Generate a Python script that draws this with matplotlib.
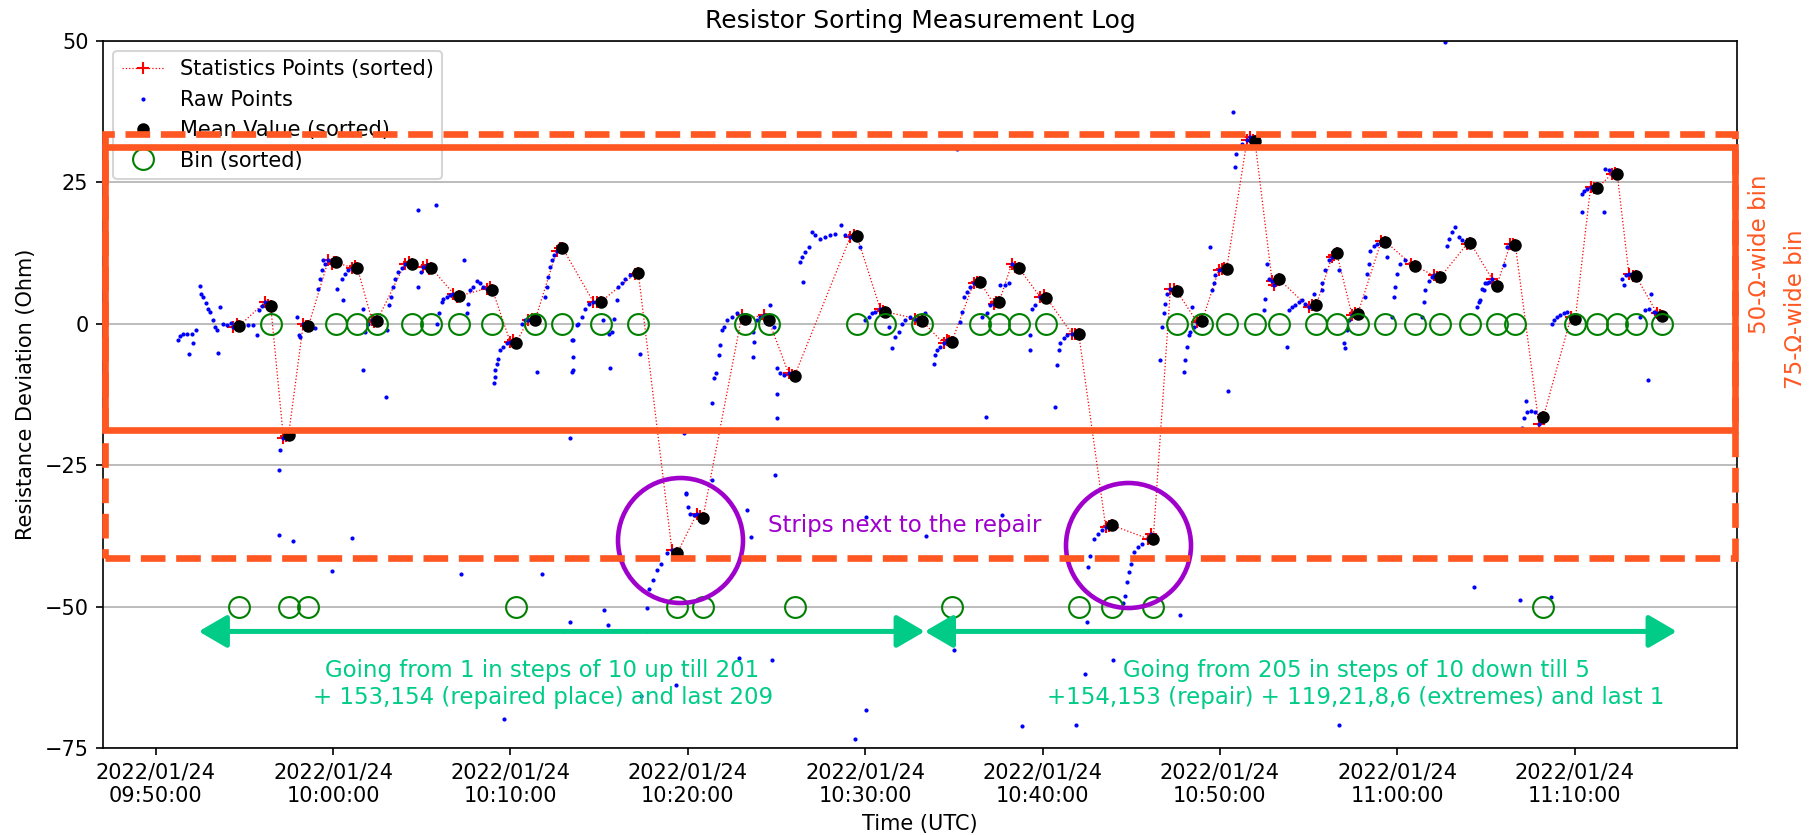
import numpy as np
import matplotlib
matplotlib.use("Agg")
import matplotlib.pyplot as plt
import matplotlib.dates as mdates
from matplotlib.patches import Rectangle

# time is given in minutes after 2022/01/24 09:50:00 (UTC)
raw_t = [
    1.27, 1.37, 1.55, 1.78, 2.02, 2.27, 2.12, 1.87, 2.49, 2.55, 2.68, 2.83, 2.96, 3.06, 3.21, 3.34, 3.43, 3.62, 3.81, 4.00, 4.22, 4.37, 4.56, 4.71,
    5.22, 5.50, 5.73, 5.84, 5.97, 6.16, 6.35, 6.48,
    6.93, 6.99, 7.20, 7.35, 7.49,
    7.94, 8.06, 8.14, 8.32, 8.45, 8.60,
    9.17, 9.26, 9.35, 9.41, 9.54, 9.73, 9.92, 10.05, 10.18,
    10.48, 10.67, 10.86, 11.05, 11.24, 11.36,
    11.99, 12.19, 12.30, 12.46,
    13.17, 13.25, 13.36, 13.49, 13.68, 13.87, 14.05, 14.30, 14.47,
    14.94, 15.09, 15.27, 15.40, 15.52,
    15.88, 15.99, 16.12, 16.22, 16.41, 16.60, 16.78, 16.97, 17.10,
    17.53, 17.63, 17.72, 17.91, 18.10, 18.28, 18.47, 18.66, 18.85, 18.98,
    19.05, 19.10, 19.13, 19.23, 19.32, 19.41, 19.60, 19.79, 19.98, 20.16, 20.30,
    20.64, 20.82, 21.01, 21.20, 21.39,
    21.96, 22.04, 22.14, 22.23, 22.33, 22.46, 22.61, 22.80, 22.93,
    23.55, 23.74, 23.83, 24.02, 24.21, 24.45, 24.68, 24.90, 25.11,
    25.71, 25.84, 25.99, 26.09, 26.28, 26.47, 26.75, 27.03, 27.21,
    27.68, 27.72, 27.82, 28.04, 28.25, 28.47, 28.82, 29.10, 29.41,
    29.87, 30.03, 30.13, 30.32, 30.51, 30.70, 30.85,
    31.45, 31.58, 31.73, 31.82, 31.92, 32.05, 32.20, 32.48, 32.77, 33.05, 33.23,
    33.89, 34.08, 34.27, 34.42, 34.55,
    34.93, 35.00, 35.00, 35.02, 35.21, 35.40, 35.68, 35.85, 36.02,
    36.33, 36.43, 36.62, 36.81, 36.99, 37.18, 37.46, 37.75, 38.03, 38.32, 38.65, 38.87, 39.16, 39.35, 39.53,
    40.00, 40.19, 40.38, 40.57, 40.85, 41.00, 41.13,
    41.69, 41.88, 42.07, 42.26, 42.54, 42.82, 43.00, 43.20,
    43.86, 43.95, 44.05, 44.23, 44.42, 44.61, 44.75, 44.87,
    45.36, 45.45, 45.55, 45.74, 45.92, 46.11, 46.30, 46.49,
    46.86, 47.05, 47.24, 47.40, 47.56,
    47.90, 48.09, 48.27, 48.46, 48.65,
    49.40, 49.59, 49.87, 50.06, 50.22,
    50.81, 50.90, 51.00, 51.19, 51.38, 51.65, 51.85, 52.04,
    52.48, 52.59, 52.70, 52.91, 53.13, 53.35, 53.56, 53.72, 53.89,
    54.53, 54.64, 54.75, 54.86, 54.96, 55.18, 55.40, 55.61, 55.93, 56.10, 56.24,
    56.65, 56.74, 56.84, 56.93, 57.02, 57.21, 57.40, 57.58,
    58.24, 58.33, 58.52, 58.71, 58.85, 58.99,
    59.55, 59.65, 59.74, 59.93, 60.12, 60.25, 60.38,
    60.83, 60.93, 61.06, 61.25, 61.53, 61.72, 61.85, 61.98,
    62.47, 62.56, 62.75, 62.94, 63.03, 63.15, 63.31,
    63.87, 64.06, 64.25, 64.44, 64.63, 64.82, 65.00, 65.20, 65.44,
    65.76, 65.95, 66.13, 66.32, 66.45, 66.59,
    67.16, 67.26, 67.45, 67.64, 67.77,
    68.20, 68.29, 68.39, 68.48, 68.67, 68.86, 69.10, 69.33,
    69.71, 69.81, 69.90, 70.00, 70.18, 70.46, 70.75, 71.00,
    71.39, 71.49, 71.58, 71.77, 71.96, 72.06, 72.25, 72.43,
    72.81, 72.90, 73.09, 73.28, 73.47, 73.66, 73.94, 74.12,
    74.49, 74.59, 74.69, 74.78, 74.87, 74.96, 75.06, 75.15, 75.34, 75.61,
    76.00, 76.19, 76.38, 76.55, 76.66,
    77.02, 77.12, 77.27, 77.33, 77.55, 77.77, 77.99, 78.24,
    78.73, 78.83, 79.01, 79.20, 79.39, 79.58, 79.80, 80.04,
    80.42, 80.52, 80.71, 80.90, 81.10, 81.27,
    81.74, 81.93, 82.12, 82.28, 82.40,
    82.68, 82.77, 82.87, 83.06, 83.30, 83.47,
    83.71, 83.99, 84.18, 84.47, 84.65, 84.80, 84.94,
]
raw_v = [
    -2.9, -2.2, -1.8, -1.9, -1.9, -1.2, -3.5, -5.3, 6.6, 5.3, 4.7, 3.6, 2.6, 2.1, 0.6, -0.6, -1.1, 2.9, 0.0, -0.3, 0.1, -0.6, 0.0, -0.4,
    -0.3, -0.3, -2.1, 2.4, 3.1, 3.8, 3.2, 3.1,
    -25.8, -22.4, -20.3, -19.9, -19.6,
    1.1, -2.1, -2.4, 0.0, -0.4, -0.5,
    6.2, 7.9, 9.5, 11.3, 10.6, 11.2, 10.6, 10.9, 10.8,
    7.9, 8.8, 9.4, 9.9, 10.1, 9.9,
    0.0, 0.6, 0.3, 0.4,
    3.2, 4.7, 6.5, 7.9, 9.1, 9.9, 10.6, 10.9, 10.5,
    9.1, 10.0, 10.3, 9.7, 9.9,
    0.0, 1.8, 3.8, 4.4, 4.7, 5.0, 5.3, 4.7, 4.9,
    1.8, 3.5, 5.9, 6.5, 7.6, 7.1, 6.5, 6.2, 6.5, 6.0,
    -10.5, -9.5, -8.2, -7.1, -6.2, -4.7, -4.1, -3.5, -3.2, -2.9, -3.5,
    0.0, 0.6, 0.7, 0.9, 0.65,
    4.7, 6.5, 8.2, 10.0, 11.2, 12.1, 12.9, 13.4, 13.4,
    -2.9, -0.3, 0.0, 1.2, 2.6, 3.5, 3.8, 3.9, 3.9,
    -1.5, 0.9, 4.1, 6.5, 7.1, 7.9, 8.5, 8.8, 8.9,
    -54.3, -50.3, -46.9, -45.4, -43.6, -42.4, -40.6, -40.0, -40.5,
    -29.9, -32.4, -33.6, -33.9, -33.6, -34.0, -34.3,
    -9.7, -8.8, -5.6, -3.8, -1.2, -0.6, 0.6, 1.2, 1.8, 1.5, 0.8,
    0.6, 1.2, 1.5, 0.9, 0.65,
    -26.7, -16.6, -12.4, -7.9, -8.8, -9.1, -8.8, -9.0, -9.2,
    10.9, 11.8, 12.6, 13.5, 16.2, 15.6, 15.0, 15.3, 15.6, 15.9, 17.4, 15.6, 15.3, 15.6, 15.5,
    0.6, 1.2, 1.8, 2.1, 2.6, 2.3, 2.1,
    -2.4, -1.5, 0.0, 0.6, 1.2, 0.9, 0.7, 0.5,
    -7.1, -5.6, -4.7, -4.1, -3.5, -2.9, -3.1, -3.3,
    0.3, 2.1, 4.7, 5.6, 6.5, 7.1, 7.4, 7.3,
    1.8, 3.2, 3.5, 3.8, 3.9,
    6.8, 7.1, 10.6, 10.0, 9.9,
    2.6, 3.2, 4.7, 5.0, 4.6,
    -7.4, -4.7, -3.5, -2.6, -2.1, -1.8, -1.9, -1.8,
    -52.8, -43.0, -41.0, -38.0, -37.1, -36.5, -35.9, -35.7, -35.6,
    -49.3, -48.1, -45.7, -43.9, -42.4, -40.4, -39.5, -38.9, -38.0, -37.2, -38.1,
    -6.5, -0.6, 1.8, 3.5, 5.3, 6.2, 6.2, 5.7,
    -2.1, -1.5, -0.6, 0.3, 0.5, 0.4,
    5.9, 7.1, 8.5, 9.4, 9.7, 9.8, 9.7,
    27.6, 30.0, 31.2, 31.8, 32.4, 32.9, 32.5, 32.2,
    2.4, 4.4, 7.9, 7.6, 6.8, 7.5, 7.9,
    2.4, 2.9, 3.2, 3.8, 4.1, 3.5, 2.9, 3.2, 3.35,
    7.1, 9.4, 11.2, 11.8, 12.2, 12.4,
    -1.2, 0.6, 1.5, 1.8, 1.7,
    4.7, 8.8, 10.6, 12.9, 13.8, 14.1, 14.6, 14.5,
    1.2, 4.7, 6.5, 8.8, 10.6, 11.2, 10.6, 10.2,
    1.2, 3.8, 5.9, 7.6, 8.2, 8.5, 8.3, 8.2,
    13.8, 15.0, 16.2, 17.1, 15.3, 14.7, 14.1, 14.3,
    2.9, 3.8, 4.1, 6.2, 5.9, 7.1, 7.1, 7.4, 7.9, 6.7,
    10.3, 13.5, 14.1, 14.0, 13.9,
    -18.4, -16.6, -13.7, -15.7, -15.4, -15.7, -17.8, -16.5,
    0.0, 0.6, 1.2, 1.5, 1.8, 2.1, 1.2, 0.8,
    22.9, 23.5, 23.8, 24.1, 24.0, 23.9,
    27.4, 27.1, 26.5, 26.6, 26.5,
    7.9, 6.8, 8.5, 8.8, 8.4, 8.35,
    1.2, 2.4, 2.6, 2.1, 1.8, 1.5, 1.4,
]

# stray raw readings (not used for statistics)
stray_t = [3.53, 6.93, 7.71, 8.98, 9.95, 10.24, 10.54, 11.70, 11.80, 11.70, 13.02, 13.00, 14.77, 14.81,
           15.80, 17.38, 17.21, 21.78, 23.36, 23.36, 25.30, 23.03, 21.48, 23.45, 23.55, 23.55, 23.47,
           25.24, 25.58, 25.62, 27.31, 29.77, 29.88, 31.39, 31.39, 33.33, 33.55, 33.70, 33.74, 33.67,
           34.64, 34.83, 36.48, 39.68, 40.07, 41.32, 41.50, 43.38, 43.41, 45.03, 45.20, 46.58, 46.83,
           47.62, 47.69, 49.31, 49.31, 50.71, 53.99, 34.74, 57.77, 57.96, 58.05, 58.14, 58.43, 59.42,
           60.47, 60.74, 62.66, 63.78, 65.28, 65.76, 66.70, 66.98, 67.07, 69.42, 72.71, 74.32, 76.93,
           78.65, 80.42, 81.68, 84.15, 84.28, 19.66, 27.34, 39.45, 40.04, 48.83, 51.89, 66.73, 25.50,
           29.36, 32.87, 44.79, 11.07, 52.40]
stray_v = [-5.2, -37.3, -38.4, -0.8, -43.8, 6.2, 4.2, -8.2, -1.5, 2.6, -1.2, -13.0, 20.0, 6.5,
           20.9, 11.2, -44.2, -44.2, -20.3, -52.7, -50.6, -54.3, -8.5, -2.9, -8.2, -5.9, -8.5,
           0.6, -1.8, -7.9, -5.3, -19.4, -30.1, -27.7, -14.1, -32.9, -37.8, -1.5, -3.2, -5.9,
           3.2, -0.6, 7.4, 13.6, -34.1, -0.6, -4.4, 1.8, -37.6, -57.6, 30.8, 1.2, -16.5,
           6.8, -33.8, -2.1, -4.7, -14.7, -59.4, -59.4, -51.5, -8.5, -6.5, -4.1, 2.9, 13.5,
           -12.0, 37.4, 10.6, -4.1, 5.3, 5.9, 9.4, -3.5, -4.4, 11.8, 49.7, -46.6, -48.8,
           -48.4, 19.7, 19.7, -9.9, 5.3, -69.9, -65.8, -73.4, -68.3, -71.1, -70.9, -70.9, -53.2,
           -63.8, -59.1, -56.0, -37.9, -62.0]

mean_t = [4.71, 6.48, 7.49, 8.60, 10.18, 11.36, 12.46, 14.47, 15.52, 17.10, 18.98, 20.30, 21.39,
          22.93, 25.11, 27.21, 29.41, 30.85, 33.23, 34.55, 36.02, 39.53, 41.13, 43.20, 44.87,
          46.49, 47.56, 48.65, 50.22, 52.04, 53.89, 56.24, 57.58, 58.99, 60.38, 61.98, 63.31,
          65.44, 66.59, 67.77, 69.33, 71.00, 72.43, 74.12, 75.61, 76.66, 78.24, 80.04, 81.27,
          82.40, 83.47, 84.94]
mean_v = [-0.35, 3.1, -19.6, -0.5, 10.8, 9.9, 0.4, 10.5, 9.9, 4.9, 6.0, -3.5, 0.65,
          13.4, 3.9, 8.9, -40.5, -34.3, 0.8, 0.65, -9.2, 15.5, 2.1, 0.5, -3.3,
          7.3, 3.9, 9.9, 4.6, -1.8, -35.6, -38.1, 5.7, 0.4, 9.7, 32.2, 7.9,
          3.35, 12.4, 1.7, 14.5, 10.2, 8.2, 14.3, 6.7, 13.9, -16.5, 0.8, 23.9,
          26.5, 8.35, 1.4]
bin_v = [-50, 0, -50, -50, 0, 0, 0, 0, 0, 0, 0, -50, 0,
         0, 0, 0, -50, -50, 0, 0, -50, 0, 0, 0, -50,
         0, 0, 0, 0, -50, -50, -50, 0, 0, 0, 0, 0,
         0, 0, 0, 0, 0, 0, 0, 0, 0, -50, 0, 0,
         0, 0, 0]

orange = '#FF5722'
green = '#00CC88'
purple = '#A000CC'

t0 = np.datetime64('2022-01-24T09:50:00')


def to_time(minutes):
    ms = np.round(np.asarray(minutes, dtype=float) * 60000).astype('timedelta64[ms]')
    return t0 + ms


def xnum(minutes):
    return mdates.date2num(to_time(minutes))


rt = np.array(raw_t)
rv = np.array(raw_v)
# statistics points: raw readings in the last part of each measurement
sel = np.zeros(len(rt), dtype=bool)
for tm in mean_t:
    sel |= (rt >= tm - 0.45) & (rt <= tm + 0.01)
order = np.argsort(rt[sel], kind='stable')
stat_t = rt[sel][order]
stat_v = rv[sel][order]

all_t = np.concatenate([rt, np.array(stray_t)])
all_v = np.concatenate([rv, np.array(stray_v)])

fig, ax = plt.subplots(figsize=(1810 / 150, 835 / 150), dpi=150)
fig.subplots_adjust(left=0.0569, right=0.9597, top=0.9513, bottom=0.1042)

ax.plot(to_time(stat_t), stat_v, 'r+:', lw=0.6, ms=6, label='Statistics Points (sorted)')
ax.plot(to_time(all_t), all_v, 'b.', ms=2, label='Raw Points')
ax.plot(to_time(mean_t), mean_v, 'ko', ms=5, label='Mean Value (sorted)')
ax.plot(to_time(mean_t), bin_v, 'o', ms=10, mfc='none', mec='green', mew=1,
        label='Bin (sorted)')

ax.set_xlim(xnum(-2.977), xnum(89.16))
ax.set_ylim(-75, 50)
ax.set_yticks([-75, -50, -25, 0, 25, 50])
ax.grid(axis='y')
ax.xaxis.set_major_locator(mdates.MinuteLocator(byminute=range(0, 60, 10)))
ax.xaxis.set_major_formatter(mdates.DateFormatter('%Y/%m/%d\n%H:%M:%S'))
ax.set_xlabel('Time (UTC)')
ax.set_ylabel('Resistance Deviation (Ohm)')
ax.set_title('Resistor Sorting Measurement Log')
ax.legend(loc='upper left')

# bins drawn as boxes across the whole time range
trans = ax.get_yaxis_transform()
ax.add_patch(Rectangle((0.001, -18.8), 0.998, 50, transform=trans, fill=False,
                       ec=orange, lw=3.2, clip_on=False, zorder=6))
ax.add_patch(Rectangle((0.001, -41.5), 0.998, 75, transform=trans, fill=False,
                       ec=orange, lw=3.2, ls='--', clip_on=False, zorder=6))
ax.text(1.014, 12.2, '50-Ω-wide bin', transform=trans, rotation=90, ha='center',
        va='center', color=orange, fontsize=11)
ax.text(1.0355, 2.5, '75-Ω-wide bin', transform=trans, rotation=90, ha='center',
        va='center', color=orange, fontsize=11)

# repair strips
ax.plot([xnum(29.54), xnum(54.82)], [-38.2, -39.1], 'o', ms=60, mfc='none',
        mec=purple, mew=2.2)
ax.text(xnum(42.25), -35.7, 'Strips next to the repair', color=purple, fontsize=11,
        ha='center', va='center')

# sorting direction
arrow = dict(arrowstyle='<|-|>,head_length=0.6,head_width=0.35', mutation_scale=19,
             lw=2.4, color=green, shrinkA=0, shrinkB=0)
ax.annotate('', xy=(xnum(2.42), -54.4), xytext=(xnum(43.36), -54.4), arrowprops=arrow)
ax.annotate('', xy=(xnum(43.36), -54.4), xytext=(xnum(85.76), -54.4), arrowprops=arrow)
ax.text(xnum(21.81), -63.7, 'Going from 1 in steps of 10 up till 201\n'
        '+ 153,154 (repaired place) and last 209', color=green, fontsize=11,
        ha='center', va='center')
ax.text(xnum(67.68), -63.7, 'Going from 205 in steps of 10 down till 5\n'
        '+154,153 (repair) + 119,21,8,6 (extremes) and last 1', color=green, fontsize=11,
        ha='center', va='center')

fig.savefig('out.png', dpi=150)
